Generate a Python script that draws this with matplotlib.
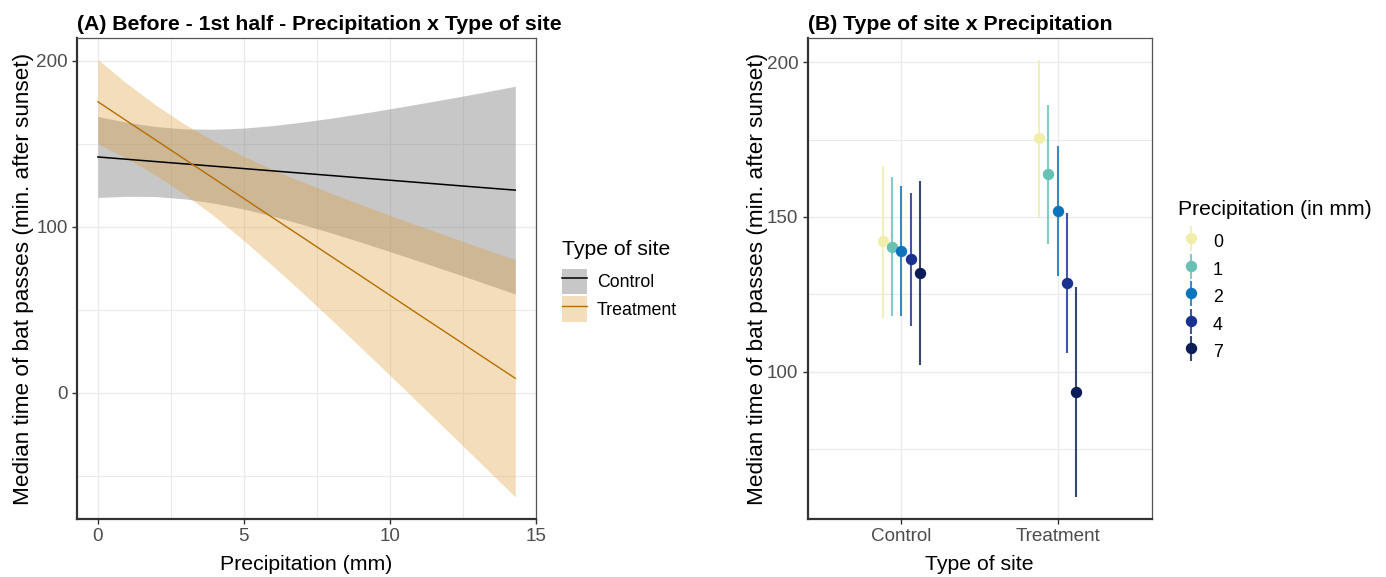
import matplotlib
matplotlib.use("Agg")
import matplotlib.pyplot as plt
from matplotlib.lines import Line2D
from matplotlib.patches import Patch
from matplotlib.legend_handler import HandlerTuple
import numpy as np

plt.rcParams["font.family"] = ["Liberation Sans", "DejaVu Sans"]

# panel A: fitted lines and confidence ribbons
precip = [0, 1, 2, 3, 4, 5, 6, 7, 8, 9, 10, 11, 12, 13, 14.3]
control_fit = [142, 140.6, 139.2, 137.8, 136.4, 135, 133.6, 132.2, 130.8, 129.4, 128, 126.6, 125.2, 123.8, 122]
control_hi = [166.4, 162.9, 160.3, 158.9, 158.7, 159.4, 160.9, 163.0, 165.4, 168.1, 171.0, 174.0, 177.1, 180.3, 184.6]
control_lo = [117.6, 118.3, 118.1, 116.7, 114.1, 110.6, 106.3, 101.4, 96.2, 90.7, 85.0, 79.2, 73.3, 67.3, 59.4]
treat_fit = [175.3, 163.6, 152.0, 140.3, 128.7, 117.0, 105.3, 93.7, 82.0, 70.4, 58.7, 47.0, 35.4, 23.7, 8.6]
treat_hi = [200.7, 186.2, 173.1, 161.4, 151.3, 142.4, 134.4, 127.1, 120.1, 113.5, 106.9, 100.5, 94.3, 88.0, 80.1]
treat_lo = [149.9, 141.0, 130.9, 119.2, 106.1, 91.6, 76.2, 60.3, 43.9, 27.3, 10.5, -6.5, -23.5, -40.6, -62.9]

# panel B: estimates per site type and precipitation level
sites = ["Control", "Treatment"]
precip_levels = ["0", "1", "2", "4", "7"]
est = {"Control": [142.1, 140.4, 139.0, 136.3, 131.8],
       "Treatment": [175.4, 163.8, 151.9, 128.6, 93.4]}
est_hi = {"Control": [166.5, 162.8, 159.9, 157.7, 161.7],
          "Treatment": [200.8, 186.3, 173.1, 151.3, 127.4]}
est_lo = {"Control": [117.3, 118.1, 118.1, 114.6, 102.2],
          "Treatment": [150.0, 141.4, 131.0, 106.0, 59.4]}
level_colors = ["#F0EEAA", "#67C1B5", "#0C74BC", "#19318F", "#0A1D58"]

W, H = 1386, 577
fig = plt.figure(figsize=(W / 100, H / 100), dpi=100)
axA = fig.add_axes([77 / W, 1 - 519 / H, (535.7 - 77) / W, (519 - 38) / H])
axB = fig.add_axes([807.5 / W, 1 - 519 / H, (1151.5 - 807.5) / W, (519 - 38) / H])

tick_col = "#4D4D4D"
fs_tick, fs_xlab, fs_ylab, fs_title = 13.6, 15.3, 16.2, 15.3
fs_leg, fs_legtitle = 12.8, 15.2


def style(ax):
    ax.set_axisbelow(True)
    ax.grid(True, which="major", color="#EBEBEB", lw=1.0)
    ax.grid(True, which="minor", color="#EBEBEB", lw=0.8)
    for side in ["left", "bottom"]:
        ax.spines[side].set_color("#333333")
        ax.spines[side].set_linewidth(1.6)
    for side in ["top", "right"]:
        ax.spines[side].set_color("#555555")
        ax.spines[side].set_linewidth(0.9)
    ax.tick_params(which="major", length=3.5, width=1.0, color="#333333",
                   labelsize=fs_tick, labelcolor=tick_col, pad=3.2)
    ax.tick_params(which="minor", length=0)


# ---- panel A
axA.fill_between(precip, control_lo, control_hi, color="#7F7F7F", alpha=0.43, lw=0)
axA.fill_between(precip, treat_lo, treat_hi, color="#DD982E", alpha=0.32, lw=0)
axA.plot(precip, control_fit, color="black", lw=1.1)
axA.plot(precip, treat_fit, color="#B56F00", lw=1.0)
axA.set_xlim(-0.715, 15.0)
axA.set_ylim(-76.2, 213.7)
axA.set_xticks([0, 5, 10, 15])
axA.set_xticks([2.5, 7.5, 12.5], minor=True)
axA.set_yticks([0, 100, 200])
axA.set_yticks([-50, 50, 150], minor=True)
style(axA)
axA.set_xlabel("Precipitation (mm)", fontsize=fs_xlab)
axA.set_ylabel("Median time of bat passes (min. after sunset)", fontsize=fs_ylab)
axA.xaxis.set_label_coords(0.5, -0.074)
axA.yaxis.set_label_coords(-0.094, 0.5)
axA.set_title("(A) Before - 1st half - Precipitation x Type of site",
              loc="left", fontsize=fs_title, fontweight="bold", pad=6)

legA = fig.legend(
    [(Patch(color="#7F7F7F", alpha=0.43, lw=0), Line2D([], [], color="black", lw=1.1)),
     (Patch(color="#DD982E", alpha=0.32, lw=0), Line2D([], [], color="#B56F00", lw=1.0))],
    ["Control", "Treatment"],
    handler_map={tuple: HandlerTuple(ndivide=1, pad=0)},
    title="Type of site", title_fontsize=fs_legtitle, fontsize=fs_leg,
    loc="upper left", bbox_to_anchor=(562 / W, 1 - 240 / H),
    frameon=False, borderpad=0, borderaxespad=0,
    handlelength=1.42, handleheight=1.85, handletextpad=0.55,
    labelspacing=0.1, alignment="left")
legA._legend_box.sep = 7

# ---- panel B
dodge = np.linspace(-0.12, 0.12, len(precip_levels))
for si, site in enumerate(sites):
    for li, lvl in enumerate(precip_levels):
        xpos = si + 1 + dodge[li]
        axB.vlines(xpos, est_lo[site][li], est_hi[site][li],
                   color=level_colors[li], lw=1.5, alpha=0.82)
        axB.plot(xpos, est[site][li], "o", color=level_colors[li], ms=8.2, mew=0)
axB.set_xlim(0.4, 2.6)
axB.set_ylim(52.3, 207.9)
axB.set_xticks([1, 2])
axB.set_xticklabels(sites)
axB.set_yticks([100, 150, 200])
axB.set_yticks([75, 125, 175], minor=True)
style(axB)
axB.set_xlabel("Type of site", fontsize=fs_xlab)
axB.set_ylabel("Median time of bat passes (min. after sunset)", fontsize=fs_ylab)
axB.xaxis.set_label_coords(0.5, -0.074)
axB.yaxis.set_label_coords(-0.114, 0.5)
axB.set_title("(B) Type of site x Precipitation",
              loc="left", fontsize=fs_title, fontweight="bold", pad=6)

handlesB = [(Line2D([], [], color=c, marker="|", ms=18, mew=1.5, ls="none", alpha=0.82),
             Line2D([], [], color=c, marker="o", ms=8.2, mew=0, ls="none"))
            for c in level_colors]
legB = fig.legend(
    handlesB, precip_levels,
    handler_map={tuple: HandlerTuple(ndivide=1, pad=0)},
    title="Precipitation (in mm)", title_fontsize=fs_legtitle, fontsize=fs_leg,
    loc="upper left", bbox_to_anchor=(1178 / W, 1 - 200 / H),
    frameon=False, borderpad=0, borderaxespad=0,
    handlelength=1.42, handleheight=1.85, handletextpad=0.55,
    labelspacing=0.1, alignment="left")
legB._legend_box.sep = 7

fig.savefig("out.png", dpi=100)
